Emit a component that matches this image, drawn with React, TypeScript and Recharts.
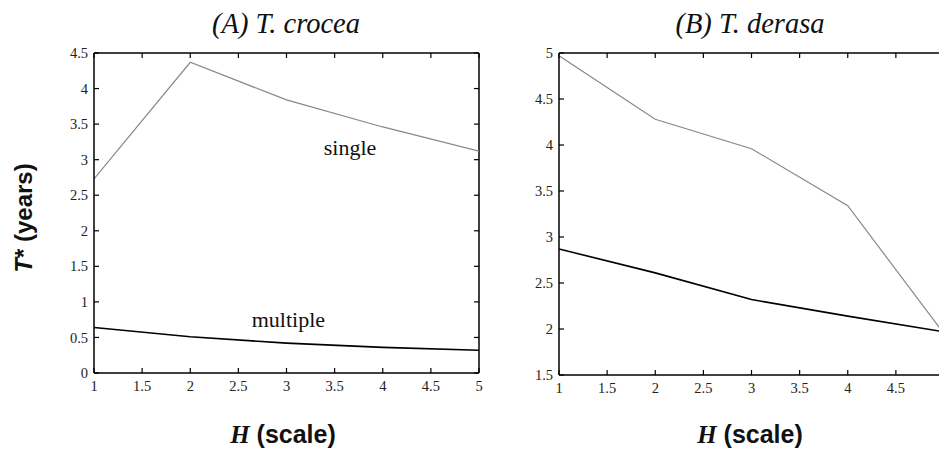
import { LineChart, Line, XAxis, YAxis, ReferenceDot, ReferenceLine, Label } from 'recharts';

const hValues = [1, 2, 3, 4, 5];
const crocSingle = [2.73, 4.37, 3.84, 3.46, 3.12];
const crocMultiple = [0.64, 0.51, 0.42, 0.36, 0.32];
const derasaSingle = [4.97, 4.28, 3.96, 3.34, 1.95];
const derasaMultiple = [2.87, 2.61, 2.32, 2.14, 1.97];

const xTicks = [1, 1.5, 2, 2.5, 3, 3.5, 4, 4.5, 5];
// panel B is cut at the page edge; its "5" label falls outside the page
const derasaXLabels = [1, 1.5, 2, 2.5, 3, 3.5, 4, 4.5];
const crocTicks = [0, 0.5, 1, 1.5, 2, 2.5, 3, 3.5, 4, 4.5];
const derasaTicks = [1.5, 2, 2.5, 3, 3.5, 4, 4.5, 5];

const crocData = hValues.map((h, i) => ({ h, single: crocSingle[i], multiple: crocMultiple[i] }));
const derasaData = hValues.map((h, i) => ({ h, single: derasaSingle[i], multiple: derasaMultiple[i] }));

const serif = '"Liberation Serif", "Times New Roman", serif';
const sans = '"Liberation Sans", Arial, sans-serif';
const axisLine = { stroke: '#000', strokeWidth: 1.5 };
const tickFont = { fontFamily: serif, fontSize: 14.5, fill: '#222' };

const X_DOMAIN: [number, number] = [1, 5];
const PLOT_W = 385;
const TICK_PX = 5;

type PanelProps = {
  data: { h: number; single: number; multiple: number }[];
  yDomain: [number, number];
  yTicks: number[];
  xLabels: number[];
  bottomGap: number;
  children?: React.ReactNode;
};

function Panel({ data, yDomain, yTicks, xLabels, bottomGap, children }: PanelProps) {
  const plotH = 451 - 53 - bottomGap - 30;
  const [x0, x1] = X_DOMAIN;
  const [y0, y1] = yDomain;
  // inward tick length, converted from pixels to data units
  const dx = ((x1 - x0) / PLOT_W) * TICK_PX;
  const dy = ((y1 - y0) / plotH) * TICK_PX;
  const tickStyle = { stroke: '#000', strokeWidth: 1.2 };
  return (
    <LineChart
      width={500}
      height={451}
      data={data}
      margin={{ top: 53, right: 21, left: 54, bottom: bottomGap }}
      style={{ fontFamily: serif }}
    >
      <XAxis
        dataKey="h"
        type="number"
        domain={X_DOMAIN}
        ticks={xLabels}
        interval={0}
        allowDataOverflow
        height={30}
        tick={tickFont}
        tickSize={0}
        tickMargin={8}
        axisLine={axisLine}
        tickLine={false}
      />
      <YAxis
        type="number"
        domain={yDomain}
        ticks={yTicks}
        interval={0}
        allowDataOverflow
        width={40}
        tick={tickFont}
        tickSize={0}
        tickMargin={6}
        axisLine={axisLine}
        tickLine={false}
      />
      {/* frame top and right */}
      <ReferenceLine segment={[{ x: x0, y: y1 }, { x: x1, y: y1 }]} {...axisLine} />
      <ReferenceLine segment={[{ x: x1, y: y0 }, { x: x1, y: y1 }]} {...axisLine} />
      {/* inward ticks on all four sides */}
      {xTicks.map((t) => (
        <ReferenceLine key={`b${t}`} segment={[{ x: t, y: y0 }, { x: t, y: y0 + dy }]} {...tickStyle} />
      ))}
      {xTicks.map((t) => (
        <ReferenceLine key={`t${t}`} segment={[{ x: t, y: y1 }, { x: t, y: y1 - dy }]} {...tickStyle} />
      ))}
      {yTicks.map((t) => (
        <ReferenceLine key={`l${t}`} segment={[{ x: x0, y: t }, { x: x0 + dx, y: t }]} {...tickStyle} />
      ))}
      {yTicks.map((t) => (
        <ReferenceLine key={`r${t}`} segment={[{ x: x1, y: t }, { x: x1 - dx, y: t }]} {...tickStyle} />
      ))}
      <Line
        type="linear"
        dataKey="single"
        stroke="#888"
        strokeWidth={1.2}
        dot={false}
        isAnimationActive={false}
      />
      <Line
        type="linear"
        dataKey="multiple"
        stroke="#000"
        strokeWidth={1.6}
        dot={false}
        isAnimationActive={false}
      />
      {children}
    </LineChart>
  );
}

const noteFont = { fontFamily: serif, fontSize: 22, fill: '#111' };

export default function App() {
  return (
    <div
      style={{
        position: 'absolute',
        left: 0,
        top: 0,
        width: 939,
        height: 451,
        overflow: 'hidden',
        background: '#fff',
        fontFamily: serif,
      }}
    >
      <div style={{ position: 'absolute', left: 0, top: 0 }}>
        <Panel data={crocData} yDomain={[0, 4.5]} yTicks={crocTicks} xLabels={xTicks} bottomGap={48}>
          <ReferenceDot x={3.66} y={3.18} r={0} stroke="none" fill="none">
            <Label value="single" position="center" style={noteFont} />
          </ReferenceDot>
          <ReferenceDot x={3.02} y={0.76} r={0} stroke="none" fill="none">
            <Label value="multiple" position="center" style={noteFont} />
          </ReferenceDot>
        </Panel>
      </div>
      {/* panel B runs past the right edge of the page and is cut there */}
      <div style={{ position: 'absolute', left: 465, top: 0 }}>
        <Panel data={derasaData} yDomain={[1.5, 5]} yTicks={derasaTicks} xLabels={derasaXLabels} bottomGap={46} />
      </div>
      <svg
        width={939}
        height={451}
        style={{ position: 'absolute', left: 0, top: 0, pointerEvents: 'none' }}
      >
        <text x={286} y={33} textAnchor="middle" fontFamily={serif} fontStyle="italic" fontSize={28.5} fill="#111">
          (A) T. crocea
        </text>
        <text x={750} y={33} textAnchor="middle" fontFamily={serif} fontStyle="italic" fontSize={28.5} fill="#111">
          (B) T. derasa
        </text>
        <text
          transform="translate(32,218) rotate(-90)"
          textAnchor="middle"
          fontFamily={sans}
          fontWeight="bold"
          fontSize={24}
          fill="#111"
        >
          <tspan fontStyle="italic">T</tspan>
          <tspan>* (years)</tspan>
        </text>
        {[283, 750].map((cx) => (
          <text key={cx} x={cx} y={443} textAnchor="middle" fontWeight="bold" fontSize={25} fill="#111">
            <tspan fontFamily={serif} fontStyle="italic">H</tspan>
            <tspan fontFamily={sans}> (scale)</tspan>
          </text>
        ))}
      </svg>
    </div>
  );
}
